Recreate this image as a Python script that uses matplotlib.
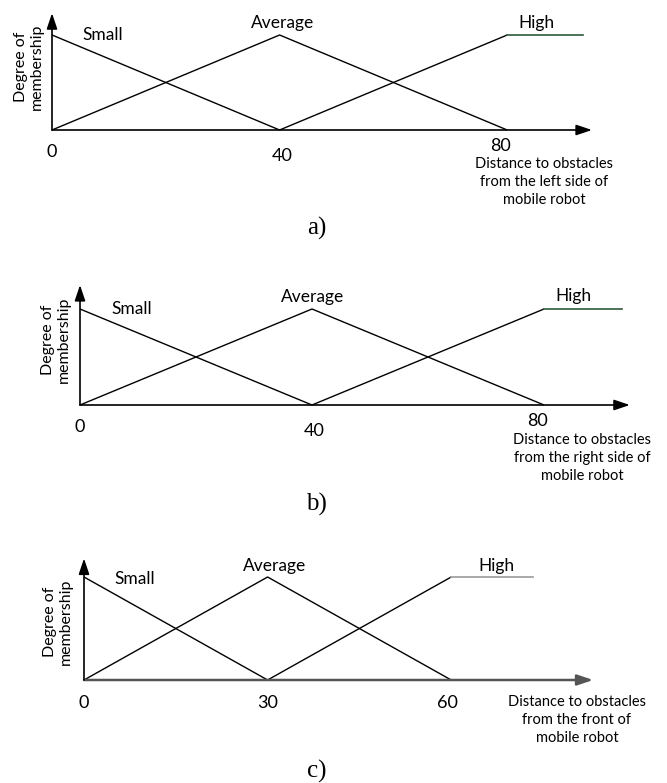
import matplotlib
matplotlib.use("Agg")
import matplotlib.pyplot as plt

W, H = 667, 783
plt.rcParams['font.family'] = ['Lato', 'DejaVu Sans']

# membership breakpoints per panel: (x, y) vertices
small_a = [(0, 1), (40, 0)]
avg_a = [(0, 0), (40, 1), (80, 0)]
high_a = [(40, 0), (80, 1)]
high_flat_a = [(80, 1), (93.3, 1)]

small_b = [(0, 1), (40, 0)]
avg_b = [(0, 0), (40, 1), (80, 0)]
high_b = [(40, 0), (80, 1)]
high_flat_b = [(80, 1), (93.4, 1)]

small_c = [(0, 1), (30, 0)]
avg_c = [(0, 0), (30, 1), (60, 0)]
high_c = [(30, 0), (60, 1)]
high_flat_c = [(60, 1), (73.4, 1)]

ticks_a = [0, 40, 80]
ticks_b = [0, 40, 80]
ticks_c = [0, 30, 60]

xlabel_a = "Distance to obstacles\nfrom the left side of\nmobile robot"
xlabel_b = "Distance to obstacles\nfrom the right side of\nmobile robot"
xlabel_c = "Distance to obstacles\nfrom the front of\nmobile robot"
ylabel = "Degree of\nmembership"

fig = plt.figure(figsize=(W / 100, H / 100), dpi=100)


def px(x, y):
    return x / W, 1 - y / H


def make_axes(x0, base, sx, sy, xlim, ylim):
    # x0/base: pixel position of data origin, sx/sy: pixels per unit
    left = x0 + xlim[0] * sx
    bottom = base - ylim[0] * sy
    w = (xlim[1] - xlim[0]) * sx
    h = (ylim[1] - ylim[0]) * sy
    ax = fig.add_axes([left / W, 1 - bottom / H, w / W, h / H])
    ax.set_xlim(*xlim)
    ax.set_ylim(*ylim)
    ax.axis('off')
    return ax


def draw_panel(ax, small, avg, high, flat, xtip, ytip, ticks, tick_off,
               flat_color, axis_color, axis_lw):
    for seg in (small, avg, high):
        xs, ys = zip(*seg)
        ax.plot(xs, ys, color='black', lw=1.0, solid_capstyle='butt')
    xs, ys = zip(*flat)
    ax.plot(xs, ys, color=flat_color, lw=1.2)
    arrow = dict(arrowstyle='-|>,head_length=0.95,head_width=0.32',
                 color=axis_color, lw=axis_lw, shrinkA=0, shrinkB=0,
                 mutation_scale=10)
    ax.annotate("", xy=(xtip, 0), xytext=(0, 0), arrowprops=arrow)
    arrow_y = dict(arrow, color='black', lw=1.2)
    ax.annotate("", xy=(0, ytip), xytext=(0, 0), arrowprops=arrow_y)
    for v, (dx, dy) in zip(ticks, tick_off):
        ax.annotate(str(v), xy=(v, 0), xytext=(dx, -dy),
                    textcoords='offset pixels', ha='center', va='center',
                    fontsize=13)


# panel a
ax_a = make_axes(52, 130, 5.69, 95, (-2, 97), (-0.05, 1.3))
draw_panel(ax_a, small_a, avg_a, high_a, high_flat_a, 94.9, 1.23, ticks_a,
           [(0, 22), (3, 26), (-7, 16)], '#2f5a3c', 'black', 1.2)
# panel b
ax_b = make_axes(80, 405, 5.8, 96, (-2, 97), (-0.05, 1.3))
draw_panel(ax_b, small_b, avg_b, high_b, high_flat_b, 94.8, 1.25, ticks_b,
           [(0, 22), (2, 26), (-7, 16)], '#2f5a3c', 'black', 1.2)
# panel c
ax_c = make_axes(84, 680, 6.12, 103, (-2, 86), (-0.05, 1.25))
draw_panel(ax_c, small_c, avg_c, high_c, high_flat_c, 83.2, 1.18, ticks_c,
           [(0, 23), (0, 23), (-4, 23)], '#9a9a9a', '#555555', 1.8)

# set labels and axis titles
labels = [
    ("Small", 103, 35), ("Average", 283, 23), ("High", 536, 23),
    ("Small", 132, 309), ("Average", 313, 297), ("High", 573, 296),
    ("Small", 135, 579), ("Average", 275, 566), ("High", 496, 566),
]
for s, x, y in labels:
    fig.text(*px(x, y), s, ha='center', va='center', fontsize=12.5)

for s, x, y in [(xlabel_a, 544, 182), (xlabel_b, 582, 458),
                (xlabel_c, 577, 720)]:
    fig.text(*px(x, y), s, ha='center', va='center', fontsize=10.5,
             linespacing=1.35)

for x, y in [(29, 67), (56, 340), (58, 622)]:
    fig.text(*px(x, y), ylabel, ha='center', va='center', fontsize=11.5,
             rotation=90, linespacing=1.1)

for s, x, y in [("a)", 317, 228), ("b)", 316, 504), ("c)", 317, 771)]:
    fig.text(*px(x, y), s, ha='center', va='center', fontsize=18,
             family='Liberation Serif')

fig.savefig("out.png", dpi=100, facecolor='white')
